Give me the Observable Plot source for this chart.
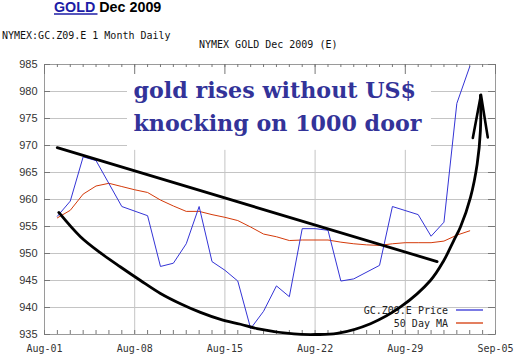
<!DOCTYPE html>
<html><head><meta charset="utf-8">
<script src="https://cdn.jsdelivr.net/npm/d3@7"></script>
<script src="https://cdn.jsdelivr.net/npm/@observablehq/plot@0.6"></script>
<style>body{margin:0;background:#fff}#chart{position:relative;width:514px;height:356px}</style>
</head><body><div id="chart"></div>
<script>
// ---- data (days counted from Aug-01 2009) ----
const priceDays   = [1,2,3,4,6,8,9,10,11,12,13,14,15,16,17,18,19,20,21,22,23,24,26,27,29,30,31,32,33];
const priceValues = [956.9,959.7,967.9,967.2,958.7,957.0,947.6,948.2,951.8,958.7,948.5,946.9,944.9,936.1,939.3,944.0,942.0,954.6,954.6,954.3,944.9,945.3,947.8,958.7,957.2,953.2,955.8,977.8,984.6];
const maDays   = [1,2,3,4,5,6,7,8,9,10,11,12,13,14,15,16,17,18,19,20,21,22,23,24,25,26,27,28,29,30,31,32,33];
const maValues = [956.6,958.0,961.0,962.5,963.0,962.4,961.8,961.3,959.9,958.8,957.8,957.8,957.2,956.7,956.1,954.9,953.6,953.1,952.4,952.5,952.5,952.5,952.1,951.8,951.6,951.5,951.8,952.0,952.0,952.0,952.3,953.4,954.2];
const yTicks = [935,940,945,950,955,960,965,970,975,980,985];
const weekTicks = [0,7,14,21,28,35];
const xTickLabels = ["Aug-01","Aug-08","Aug-15","Aug-22","Aug-29","Sep-05"];
// hand-drawn annotations (day, price)
const trendDays = [0.99, 30.47];
const trendPrices = [969.6, 948.5];
const arcDays = [1.11,2.79,4.35,5.9,7.45,9.0,10.55,12.1,13.66,15.21,16.5,19.35,21.03,22.71,25.3,27.63,29.95,30.99,31.76,32.28,33.06,33.58,33.83,33.83];
const arcPrices = [957.6,953.1,950.1,947.5,945.0,942.6,940.7,939.1,937.8,936.9,936.1,935.1,935.0,935.2,937.0,940.1,945.0,948.7,952.4,954.9,960.4,966.6,972.8,979.3];
const arrowDays = [33.24, 33.87, 34.4];
const arrowPrices = [971.4, 979.4, 971.5];
const noteBoxDays = [6.44, 30.03];
const noteBoxPrices = [969.1, 985];
const noteLines = ["gold rises without US$", "knocking on 1000 door"];
const legendLabels = ["GC.Z09.E Price", "50 Day MA"];
const titleLink = "GOLD", titleRest = "Dec 2009";
const subLeft = "NYMEX:GC.Z09.E 1 Month Daily";
const subRight = "NYMEX GOLD Dec 2009 (E)";

// ---- build ----
const t0 = Date.UTC(2009, 7, 1);
const day = d => new Date(t0 + d * 864e5);
const BLUE = "#3434d6", RED = "#d43a0a";
const price = priceDays.map((d, i) => ({date: day(d), v: priceValues[i]}));
const ma = maDays.map((d, i) => ({date: day(d), v: maValues[i]}));
const trend = trendDays.map((d, i) => ({date: day(d), v: trendPrices[i]}));
const arc = arcDays.map((d, i) => ({date: day(d), v: arcPrices[i]}));
const arrow = arrowDays.map((d, i) => ({date: day(d), v: arrowPrices[i]}));
const allDays = d3.range(0, 36);
const labelByTime = new Map(weekTicks.map((d, i) => [+day(d), xTickLabels[i]]));

const W = 514, H = 356, mL = 44, mR = 19, mT = 64, mB = 22;
const innerW = W - mL - mR, innerH = H - mT - mB;
const MONO = "DejaVu Sans Mono";
const NOTE_SIZE = 22.2;

const legendMark = (index, scales, values, dims) => {
  const g = d3.create("svg:g");
  const right = dims.width - dims.marginRight;
  const bottom = dims.height - dims.marginBottom;
  const rows = [{label: legendLabels[0], color: BLUE, y: bottom - 20}, {label: legendLabels[1], color: RED, y: bottom - 7}];
  for (const r of rows) {
    g.append("text").attr("x", right - 47).attr("y", r.y).attr("text-anchor", "end")
      .attr("font-family", MONO).attr("font-size", 10).attr("fill", "#222").text(r.label);
    g.append("line").attr("x1", right - 39).attr("x2", right - 12).attr("y1", r.y - 4).attr("y2", r.y - 4)
      .attr("stroke", r.color).attr("stroke-width", 1.3);
  }
  return g.node();
};

const chart = Plot.plot({
  width: W, height: H, marginLeft: mL, marginRight: mR, marginTop: mT, marginBottom: mB,
  style: {background: "#fff", overflow: "visible"},
  x: {type: "utc", domain: [day(0), day(35)], label: null},
  y: {domain: [935, 985], label: null},
  marks: [
    Plot.gridY(yTicks, {stroke: "#c4c4c4", strokeOpacity: 1}),
    Plot.gridX(weekTicks.map(day), {stroke: "#c4c4c4", strokeOpacity: 1}),
    Plot.rect([0], {x1: () => day(noteBoxDays[0]), x2: () => day(noteBoxDays[1]), y1: () => noteBoxPrices[0], y2: () => noteBoxPrices[1], fill: "#fff", insetTop: 1}),
    Plot.frame({stroke: "#9a9a9a"}),
    Plot.tickX(allDays, {x: d => day(d), insetTop: innerH - 4, stroke: "#777"}),
    Plot.tickX(allDays, {x: d => day(d), insetBottom: innerH - 3, stroke: "#777"}),
    Plot.tickX(weekTicks, {x: d => day(d), insetBottom: innerH - 10, stroke: "#777"}),
    Plot.tickY(yTicks, {y: d => d, insetRight: innerW - 6, stroke: "#777"}),
    Plot.tickY(yTicks, {y: d => d, insetLeft: innerW - 7, stroke: "#777"}),
    Plot.axisY(yTicks, {tickSize: 0, tickPadding: 7, fontSize: 11, fontFamily: "Liberation Sans", fill: "#333", label: null}),
    Plot.axisX(weekTicks.map(day), {tickSize: 0, tickPadding: 10, fontSize: 10, fontFamily: MONO, fill: "#333", label: null, tickFormat: d => labelByTime.get(+d)}),
    Plot.line(ma, {x: "date", y: "v", stroke: RED, strokeWidth: 1}),
    Plot.line(price, {x: "date", y: "v", stroke: BLUE, strokeWidth: 1}),
    legendMark,
    Plot.line(trend, {x: "date", y: "v", stroke: "#000", strokeWidth: 2.8}),
    Plot.line(arc, {x: "date", y: "v", stroke: "#000", strokeWidth: 2.8, curve: "catmull-rom"}),
    Plot.line(arrow, {x: "date", y: "v", stroke: "#000", strokeWidth: 2.6}),
    Plot.text([noteLines.join("\n")], {frameAnchor: "top-left", dx: 89, dy: 66, lineAnchor: "bottom", textAnchor: "start",
      lineHeight: 33 / NOTE_SIZE, fontSize: NOTE_SIZE, fontWeight: "bold", fontFamily: "DejaVu Serif", fill: "#333399"})
  ]
});

const svg = d3.select(chart);
const head = svg.append("g").attr("text-anchor", "start");
const tl = head.append("text").attr("x", 54).attr("y", 12).attr("text-anchor", "start")
  .attr("font-family", "Liberation Sans").attr("font-weight", "bold").attr("font-size", 14.3);
tl.append("tspan").attr("fill", "#1c1ca6").text(titleLink);
tl.append("tspan").attr("fill", "#000").text(" " + titleRest);
head.append("line").attr("x1", 54).attr("x2", 97.5).attr("y1", 14).attr("y2", 14).attr("stroke", "#1c1ca6").attr("stroke-width", 1.6);
head.append("text").attr("x", 2).attr("y", 38.5).attr("text-anchor", "start").attr("font-family", MONO).attr("font-size", 10).attr("fill", "#111").text(subLeft);
head.append("text").attr("x", 199).attr("y", 48).attr("text-anchor", "start").attr("font-family", MONO).attr("font-size", 10).attr("fill", "#111").text(subRight);

document.getElementById("chart").append(chart);
</script></body></html>
